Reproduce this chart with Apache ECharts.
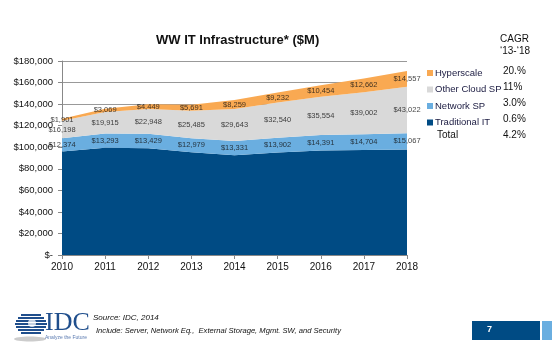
<!DOCTYPE html>
<html><head><meta charset="utf-8">
<script src="https://cdn.jsdelivr.net/npm/echarts@6/dist/echarts.min.js"></script>
<style>html,body{margin:0;padding:0;background:#fff}#c{width:552px;height:345px}</style>
</head><body><div id="c"></div>
<script>
var years = ['2010','2011','2012','2013','2014','2015','2016','2017','2018'];
var traditionalIT = [96000, 99500, 99000, 95300, 92500, 95000, 97000, 97400, 98000];
var networkSP = [12374, 13293, 13429, 12979, 13331, 13902, 14391, 14704, 15067];
var otherCloudSP = [16198, 19915, 22948, 25485, 29643, 32540, 35554, 39002, 43022];
var hyperscale = [1901, 3069, 4449, 5691, 8259, 9232, 10454, 12662, 14557];
var yTicks = [0, 20000, 40000, 60000, 80000, 100000, 120000, 140000, 160000, 180000];
var legendNames = ['Hyperscale', 'Other Cloud SP', 'Network SP', 'Traditional IT'];
var cagrValues = ['20.%', '11%', '3.0%', '0.6%', '4.2%'];

var C_TRAD = '#004B84', C_NET = '#6AAEE0', C_OTHER = '#D9D9D9', C_HYPER = '#F9A952';
var font = 'Liberation Sans, Arial, sans-serif';

function fmt(v){ return '$' + v.toLocaleString('en-US'); }
function labelPoints(base, vals){
  return vals.map(function(v,i){ var b = 0; base.forEach(function(a){ b += a[i]; }); return [i, b + v/2, v]; });
}
function labelSeries(name, pts){
  return { type:'scatter', name: name + ' labels', data: pts, symbolSize: 0, silent: true, z: 5,
    label: { show: true, position: 'inside', fontFamily: font, fontSize: 7.5, color: '#111',
      formatter: function(p){ return fmt(p.value[2]); } } };
}
function areaSeries(name, vals, color){
  return { type:'line', name: name, stack:'total', data: vals, symbol:'none', smooth: false,
    lineStyle: { width: 0 }, areaStyle: { color: color, opacity: 1 }, itemStyle: { color: color } };
}

var chart = echarts.init(document.getElementById('c'), null, {renderer:'canvas'});
var gfx = [];
var rowsY = [72, 88.5, 104.5, 120.5, 136.5];
cagrValues.forEach(function(t,i){
  gfx.push({ type:'text', left: 503, top: rowsY[i]-6, style:{ text: t, font: '10px ' + font, fill:'#111' } });
});
gfx.push({ type:'text', left: 437, top: 130.5, style:{ text:'Total', font:'10px ' + font, fill:'#111' } });
gfx.push({ type:'text', left: 500, top: 34, style:{ text:'CAGR', font:'10px ' + font, fill:'#111' } });
gfx.push({ type:'text', left: 500, top: 46, style:{ text:'\u201813-\u201818', font:'10px ' + font, fill:'#111' } });
// footer
gfx.push({ type:'text', left: 93, top: 314, style:{ text:'Source: IDC, 2014', font:'italic 8px ' + font, fill:'#111' } });
gfx.push({ type:'text', left: 96, top: 327, style:{ text:'Include: Server, Network Eq.,  External Storage, Mgmt. SW, and Security', font:'italic 7.6px ' + font, fill:'#111' } });
gfx.push({ type:'rect', shape:{ x:472, y:321, width:68, height:19 }, style:{ fill:'#004B84' } });
gfx.push({ type:'rect', shape:{ x:542, y:321, width:10, height:19 }, style:{ fill:'#6AAEE0' } });
gfx.push({ type:'text', left: 487, top: 325, style:{ text:'7', font:'bold 9px ' + font, fill:'#fff' } });
// IDC logo
gfx.push({ type:'ellipse', shape:{ cx:30, cy:339, rx:16, ry:2.5 }, style:{ fill:'#ccc' } });
var stripes = [[314,10],[317,13],[320,15],[323,16],[326,15],[329,13],[332,10]];
stripes.forEach(function(s){
  gfx.push({ type:'rect', shape:{ x:31 - s[1], y:s[0], width:s[1]*2, height:2 }, style:{ fill:'#1F4E8C' } });
});
gfx.push({ type:'circle', shape:{ cx:32, cy:323, r:4 }, style:{ fill:'rgba(255,255,255,0.75)' } });
gfx.push({ type:'text', left: 45, top: 310, style:{ text:'IDC', font:'26px Liberation Serif, Times New Roman, serif', fill:'#1F4E8C' } });
gfx.push({ type:'text', left: 45, top: 335, style:{ text:'Analyze the Future', font:'5px ' + font, fill:'#5a7ab0' } });

chart.setOption({
  backgroundColor:'#fff',
  animation: false,
  title: { text:'WW IT Infrastructure* ($M)', left: 151, top: 29,
    textStyle:{ fontFamily: font, fontSize: 13, fontWeight:'bold', color:'#111' } },
  legend: { data: legendNames, orient:'vertical', left: 427, top: 67, padding: 0,
    icon:'rect', itemWidth: 6, itemHeight: 6, itemGap: 4.5,
    textStyle:{ fontFamily: font, fontSize: 9.5, color:'#1a1a40', lineHeight: 12, padding:[0,0,0,-3] } },
  grid: { left: 62, right: 145, top: 61, bottom: 90, containLabel: false },
  xAxis: { type:'category', data: years, boundaryGap: false,
    axisLine:{ lineStyle:{ color:'#888' } }, axisTick:{ show:true, alignWithLabel:true, length:4, lineStyle:{ color:'#888' } },
    axisLabel:{ fontFamily: font, fontSize: 10, color:'#111', margin: 7 } },
  yAxis: { type:'value', min: yTicks[0], max: yTicks[yTicks.length-1], interval: yTicks[1]-yTicks[0],
    axisLine:{ show:true, lineStyle:{ color:'#888' } }, axisTick:{ show:true, length:4, lineStyle:{ color:'#888' } },
    splitLine:{ show:true, lineStyle:{ color:'#999', width: 1 } },
    axisLabel:{ fontFamily: font, fontSize: 9.5, color:'#111', margin: 9,
      formatter: function(v){ return v === 0 ? '$-' : '$' + v.toLocaleString('en-US'); } } },
  graphic: gfx,
  series: [
    areaSeries('Traditional IT', traditionalIT, C_TRAD),
    areaSeries('Network SP', networkSP, C_NET),
    areaSeries('Other Cloud SP', otherCloudSP, C_OTHER),
    areaSeries('Hyperscale', hyperscale, C_HYPER),
    labelSeries('Network SP', labelPoints([traditionalIT], networkSP)),
    labelSeries('Other Cloud SP', labelPoints([traditionalIT, networkSP], otherCloudSP)),
    labelSeries('Hyperscale', labelPoints([traditionalIT, networkSP, otherCloudSP], hyperscale))
  ]
});
</script></body></html>
